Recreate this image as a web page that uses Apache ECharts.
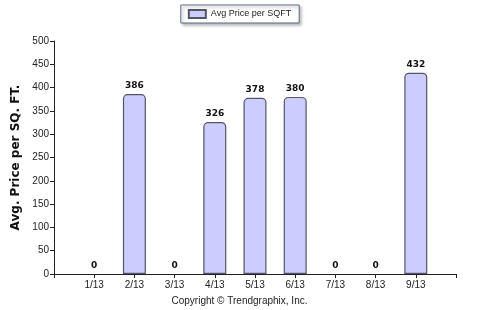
<!DOCTYPE html>
<html><head><meta charset="utf-8">
<script src="https://cdn.jsdelivr.net/npm/echarts@6/dist/echarts.min.js"></script>
<style>html,body{margin:0;padding:0;background:#fff}#c{width:479px;height:310px}</style>
</head><body><div id="c"></div>
<script>
var categories = ['', '1/13', '2/13', '3/13', '4/13', '5/13', '6/13', '7/13', '8/13', '9/13', ''];
var avgPrice = [null, 0, 386, 0, 326, 378, 380, 0, 0, 432, null];
var seriesName = 'Avg Price per SQFT';
var yTicks = [0, 500, 50];

var barData = avgPrice.map(function (v) {
  if (v === 0) return {value: v, itemStyle: {borderWidth: 0}};
  return v;
});

var chart = echarts.init(document.getElementById('c'), null, {renderer: 'canvas'});
chart.setOption({
  animation: false,
  textStyle: {fontFamily: 'DejaVu Sans, sans-serif'},
  grid: {left: 54, right: 23, top: 41, bottom: 36},
  legend: {
    data: [{name: seriesName, icon: 'rect'}],
    top: 5, left: 'center',
    itemWidth: 17, itemHeight: 8, itemGap: 4,
    padding: [4, 8, 4, 7],
    borderColor: '#5a6a8a', borderWidth: 1,
    shadowColor: 'rgba(0,0,0,0.3)', shadowBlur: 3, shadowOffsetX: 2, shadowOffsetY: 2,
    backgroundColor: '#fff',
    textStyle: {fontSize: 9, color: '#222', fontFamily: 'Liberation Sans, Arial, sans-serif'}
  },
  xAxis: {
    type: 'category', data: categories, boundaryGap: false,
    axisLine: {lineStyle: {color: '#222', width: 1}},
    axisTick: {show: true, length: 4, lineStyle: {color: '#222'}},
    axisLabel: {fontSize: 10, color: '#222', margin: 6, fontFamily: 'Liberation Sans, Arial, sans-serif', interval: 0},
    splitLine: {show: false}
  },
  yAxis: {
    type: 'value', min: yTicks[0], max: yTicks[1], interval: yTicks[2],
    name: 'Avg. Price per SQ. FT.', nameLocation: 'middle', nameGap: 32,
    nameTextStyle: {fontSize: 12, fontWeight: 'bold', color: '#111', fontFamily: 'DejaVu Sans, sans-serif'},
    axisLine: {show: true, lineStyle: {color: '#222', width: 1}},
    axisTick: {show: true, length: 4, lineStyle: {color: '#222'}},
    axisLabel: {fontSize: 10, color: '#222', margin: 5, fontFamily: 'Liberation Sans, Arial, sans-serif'},
    splitLine: {show: false}
  },
  graphic: [{
    type: 'text', left: 'center', top: 296,
    style: {text: 'Copyright \u00a9 Trendgraphix, Inc.', fontSize: 10, fill: '#222', fontFamily: 'Liberation Sans, Arial, sans-serif'}
  }],
  series: [{
    name: seriesName, type: 'bar', data: barData, barWidth: 23,
    itemStyle: {color: '#ccccff', borderColor: '#555566', borderWidth: 1.2, borderRadius: [4, 4, 0, 0]},
    label: {show: true, position: 'top', distance: 4, fontSize: 9, fontWeight: 'bold', color: '#111', fontFamily: 'DejaVu Sans, sans-serif'}
  }]
});
</script></body></html>
